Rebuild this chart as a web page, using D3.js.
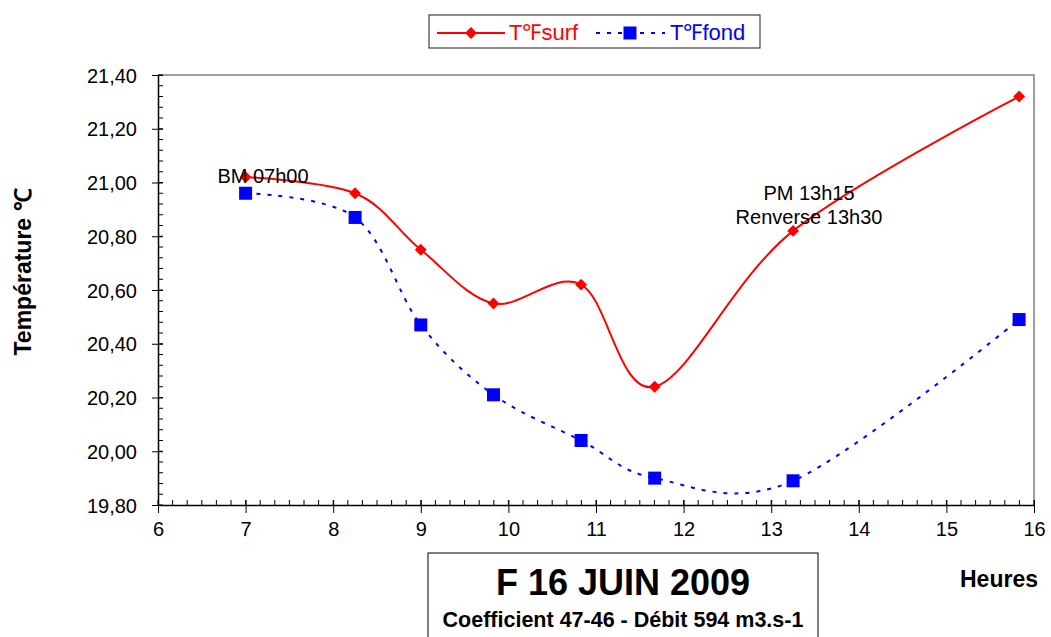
<!DOCTYPE html>
<html><head><meta charset="utf-8">
<script src="https://cdn.jsdelivr.net/npm/d3@7"></script>
<style>body{margin:0;background:#fff;} text{font-family:"Liberation Sans",Arial,sans-serif;}</style>
</head><body>
<svg id="c" width="1051" height="637"></svg>
<script>
const hours = [7.0, 8.25, 9.0, 9.83, 10.83, 11.67, 13.25, 15.83];
const surf = [21.02, 20.96, 20.75, 20.55, 20.62, 20.24, 20.82, 21.32];
const fond = [20.96, 20.87, 20.47, 20.21, 20.04, 19.90, 19.89, 20.49];
const xTicks = [6,7,8,9,10,11,12,13,14,15,16];
const yTicks = [19.8,20.0,20.2,20.4,20.6,20.8,21.0,21.2,21.4];
const seriesNames = ["T℉surf", "T℉fond"];

const svg = d3.select("#c");
const L=158, R=1034, T=75, B=505;
const x = d3.scaleLinear().domain([6,16]).range([L,R]);
const y = d3.scaleLinear().domain([19.8,21.4]).range([B,T]);
const fmt = v => v.toFixed(2).replace(".", ",");

// frame top/right
svg.append("path").attr("d",`M${L},${T}H${R}V${B}`).attr("fill","none").attr("stroke","#808080").attr("stroke-width",1.5);

// minor ticks
const yMinor = d3.range(19.8, 21.401, 0.04);
svg.append("g").selectAll("line").data(yMinor).join("line")
  .attr("x1",L).attr("x2",L+5).attr("y1",d=>y(d)).attr("y2",d=>y(d)).attr("stroke","#000");
const xMinor = d3.range(6, 16.001, 1/6);
svg.append("g").selectAll("line").data(xMinor).join("line")
  .attr("y1",B).attr("y2",B-5).attr("x1",d=>x(d)).attr("x2",d=>x(d)).attr("stroke","#000");

// axes
const yAxis = d3.axisLeft(y).tickValues(yTicks).tickFormat(fmt).tickSizeInner(6).tickSizeOuter(0).tickPadding(15);
const gy = svg.append("g").attr("transform",`translate(${L},0)`).call(yAxis);
gy.selectAll(".tick line").attr("x1",5).attr("x2",-6);
const xAxis = d3.axisBottom(x).tickValues(xTicks).tickFormat(d3.format("d")).tickSizeInner(8).tickSizeOuter(0).tickPadding(9);
const gx = svg.append("g").attr("transform",`translate(0,${B})`).call(xAxis);
gx.selectAll(".tick line").attr("y1",-5).attr("y2",8);
[gx,gy].forEach(g=>{g.selectAll("text").attr("font-size",20).attr("fill","#000").attr("font-family","Liberation Sans, Arial, sans-serif");
  g.select(".domain").attr("stroke","#000").attr("stroke-width",1.5);
  g.selectAll(".tick line").attr("stroke","#000");});
gy.selectAll("text").attr("dy","0.35em");
gx.selectAll("text").attr("dy","0.71em");

// lines
const line = d3.line().curve(d3.curveCardinal.tension(0));
const ptsS = hours.map((h,i)=>[x(h),y(surf[i])]);
const ptsF = hours.map((h,i)=>[x(h),y(fond[i])]);
svg.append("path").attr("d",line(ptsF)).attr("fill","none").attr("stroke","#0000ff").attr("stroke-width",2).attr("stroke-dasharray","4,7");
svg.append("path").attr("d",line(ptsS)).attr("fill","none").attr("stroke","#ff0000").attr("stroke-width",2);

// markers
svg.append("g").selectAll("rect").data(ptsF).join("rect")
  .attr("x",d=>d[0]-6.5).attr("y",d=>d[1]-6.5).attr("width",13).attr("height",13).attr("fill","#0000ff");
const diamond = d3.symbol().type(d3.symbolDiamond2).size(90);
svg.append("g").selectAll("path").data(ptsS).join("path")
  .attr("d",diamond).attr("transform",d=>`translate(${d[0]},${d[1]})`).attr("fill","#ff0000");

// annotations
svg.append("text").attr("x",263).attr("y",183).attr("text-anchor","middle").attr("font-size",20).text("BM 07h00");
svg.append("text").attr("x",809).attr("y",200).attr("text-anchor","middle").attr("font-size",20).text("PM 13h15");
svg.append("text").attr("x",809).attr("y",224).attr("text-anchor","middle").attr("font-size",20).text("Renverse 13h30");

// legend
const lg = svg.append("g");
lg.append("rect").attr("x",429).attr("y",15).attr("width",331).attr("height",33).attr("fill","#fff").attr("stroke","#404040").attr("stroke-width",1.2);
lg.append("line").attr("x1",437).attr("x2",505).attr("y1",33).attr("y2",33).attr("stroke","#ff0000").attr("stroke-width",2);
lg.append("path").attr("d",diamond).attr("transform","translate(471,33)").attr("fill","#ff0000");
lg.append("text").attr("x",509).attr("y",40).attr("font-size",22).attr("fill","#ff0000").text(seriesNames[0]);
lg.append("line").attr("x1",596).attr("x2",665).attr("y1",33).attr("y2",33).attr("stroke","#0000ff").attr("stroke-width",2).attr("stroke-dasharray","4,7");
lg.append("rect").attr("x",623.5).attr("y",26.5).attr("width",13).attr("height",13).attr("fill","#0000ff");
lg.append("text").attr("x",670).attr("y",40).attr("font-size",22).attr("fill","#0000ff").text(seriesNames[1]);

// axis titles
svg.append("text").attr("transform","translate(31,272) rotate(-90)").attr("text-anchor","middle").attr("font-size",23).attr("font-weight","bold").text("Température ℃");
svg.append("text").attr("x",999).attr("y",587).attr("text-anchor","middle").attr("font-size",23).attr("font-weight","bold").text("Heures");

// title box
svg.append("rect").attr("x",428).attr("y",553).attr("width",390).attr("height",100).attr("fill","#fff").attr("stroke","#000").attr("stroke-width",1);
svg.append("text").attr("x",623).attr("y",595).attr("text-anchor","middle").attr("font-size",36).attr("font-weight","bold").text("F 16 JUIN 2009");
svg.append("text").attr("x",623).attr("y",627).attr("text-anchor","middle").attr("font-size",21.5).attr("font-weight","bold").text("Coefficient 47-46 - Débit 594 m3.s-1");
</script>
</body></html>
